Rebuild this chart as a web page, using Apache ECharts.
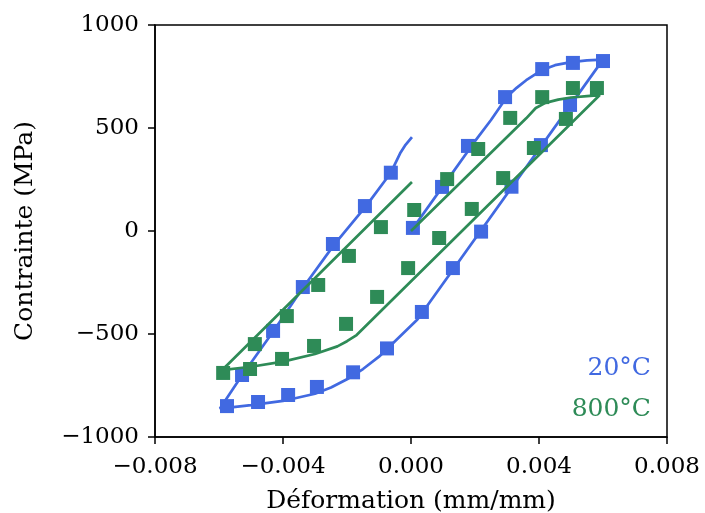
<!DOCTYPE html>
<html>
<head>
<meta charset="utf-8">
<script src="https://cdn.jsdelivr.net/npm/echarts@6/dist/echarts.min.js"></script>
<style>
html,body{margin:0;padding:0;background:#fff;}
#chart{width:705px;height:513px;}
</style>
</head>
<body>
<div id="chart"></div>
<script>
// Tick values
const xTicks = [-0.008, -0.004, 0.000, 0.004, 0.008];
const yTicks = [-1000, -500, 0, 500, 1000];

// 20°C fitted curve (path order)
const blueLineX = [0, 0.001, 0.002, 0.0025, 0.003, 0.0033, 0.0036, 0.0041, 0.0045, 0.005, 0.0055, 0.006,
  0.0002, -0.0005, -0.001, -0.0015, -0.002, -0.0025, -0.003, -0.004, -0.005, -0.00597,
  -0.0053, -0.0043, -0.0034, -0.0024, -0.0014, -0.00063, -0.00034, -0.00019, 0.00003];
const blueLineY = [0, 218, 436, 539, 652, 695, 732, 782, 805, 820, 828, 832,
  -430, -535, -610, -670, -720, -760, -790, -825, -845, -862,
  -705, -487, -280, -66, 122, 283, 377, 414, 456];

// 20°C measured points
const blueMarkX = [0.00006, 0.00097, 0.00178, 0.00294, 0.0041, 0.00506, 0.006,
  0.00497, 0.00406, 0.00314, 0.00219, 0.00131, 0.00034, -0.00075, -0.00181, -0.00294, -0.00384, -0.00478, -0.00575,
  -0.00528, -0.00431, -0.00338, -0.00244, -0.00144, -0.00063];
const blueMarkY = [15, 214, 413, 650, 786, 816, 825,
  612, 417, 215, -3, -180, -393, -570, -686, -757, -796, -830, -850,
  -699, -485, -272, -63, 121, 283];

// 800°C fitted curve (path order)
const greenLineX = [0, 0.0036, 0.0039, 0.0042, 0.0046, 0.005, 0.0055, 0.0059,
  -0.0017, -0.002, -0.0023, -0.003, -0.004, -0.005, -0.0059,
  0.00003];
const greenLineY = [0, 547, 597, 622, 638, 648, 655, 660,
  -505, -535, -560, -597, -634, -659, -675,
  238];

// 800°C measured points
const greenMarkX = [0.0001, 0.00113, 0.0021, 0.0031, 0.0041, 0.00506, 0.00581,
  0.00484, 0.00384, 0.00288, 0.0019, 0.00088, -0.00009, -0.00106, -0.00203, -0.00303, -0.00403, -0.00503, -0.00587,
  -0.00488, -0.00388, -0.0029, -0.00194, -0.00094];
const greenMarkY = [102, 252, 398, 549, 650, 694, 694,
  544, 403, 257, 107, -34, -180, -320, -451, -558, -621, -670, -689,
  -549, -413, -262, -121, 19];

const labels = ['20°C', '800°C'];
const BLUE = '#4169E1', GREEN = '#2E8B57';
const FONT = '"DejaVu Serif", serif';

const zip = (a, b) => a.map((v, i) => [v, b[i]]);
const fmtY = v => {
  const s = (Math.abs(v) < 1e-12 ? 0 : v);
  return s < 0 ? '\u2212' + Math.abs(s) : String(s);
};
const fmtX = v => {
  const t = Math.abs(v) < 1e-12 ? 0 : v;
  return (t < 0 ? '\u2212' : '') + Math.abs(t).toFixed(3);
};

const chart = echarts.init(document.getElementById('chart'), null, {renderer: 'canvas'});
chart.setOption({
  animation: false,
  backgroundColor: '#fff',
  grid: {left: 155, right: 38, top: 25, bottom: 76, containLabel: false, outerBoundsMode: 'none',
    show: true, borderColor: '#000', borderWidth: 1.5, backgroundColor: 'transparent'},
  xAxis: {
    type: 'value', min: xTicks[0], max: xTicks[xTicks.length - 1], interval: 0.004,
    name: 'Déformation (mm/mm)', nameLocation: 'middle', nameGap: 52,
    nameTextStyle: {fontFamily: FONT, fontSize: 25, color: '#000'},
    axisLine: {show: true, onZero: false, lineStyle: {color: '#000', width: 1.5}},
    axisTick: {show: true, inside: false, length: 7, lineStyle: {color: '#000', width: 1.5}},
    axisLabel: {fontFamily: FONT, fontSize: 23, color: '#000', margin: 19, formatter: fmtX},
    splitLine: {show: false}
  },
  yAxis: {
    type: 'value', min: yTicks[0], max: yTicks[yTicks.length - 1], interval: 500,
    name: 'Contrainte (MPa)', nameLocation: 'middle', nameGap: 117,
    nameTextStyle: {fontFamily: FONT, fontSize: 25, color: '#000'},
    axisLine: {show: true, onZero: false, lineStyle: {color: '#000', width: 1.5}},
    axisTick: {show: true, inside: false, length: 7, lineStyle: {color: '#000', width: 1.5}},
    axisLabel: {fontFamily: FONT, fontSize: 23, color: '#000', margin: 16, formatter: fmtY},
    splitLine: {show: false}
  },
  graphic: [
    {type: 'text', right: 54, top: 356, style: {text: labels[0], font: '25px "DejaVu Serif", serif', fill: BLUE}},
    {type: 'text', right: 54, top: 397, style: {text: labels[1], font: '25px "DejaVu Serif", serif', fill: GREEN}}
  ],
  series: [
    {type: 'line', data: zip(blueLineX, blueLineY), showSymbol: false, symbol: 'none', lineStyle: {color: BLUE, width: 2.7}, z: 2},
    {type: 'scatter', data: zip(blueMarkX, blueMarkY), symbol: 'rect', symbolSize: 14, itemStyle: {color: BLUE, opacity: 1}, z: 3},
    {type: 'line', data: zip(greenLineX, greenLineY), showSymbol: false, symbol: 'none', lineStyle: {color: GREEN, width: 2.7}, z: 4},
    {type: 'scatter', data: zip(greenMarkX, greenMarkY), symbol: 'rect', symbolSize: 14, itemStyle: {color: GREEN, opacity: 1}, z: 5}
  ]
});
</script>
</body>
</html>
